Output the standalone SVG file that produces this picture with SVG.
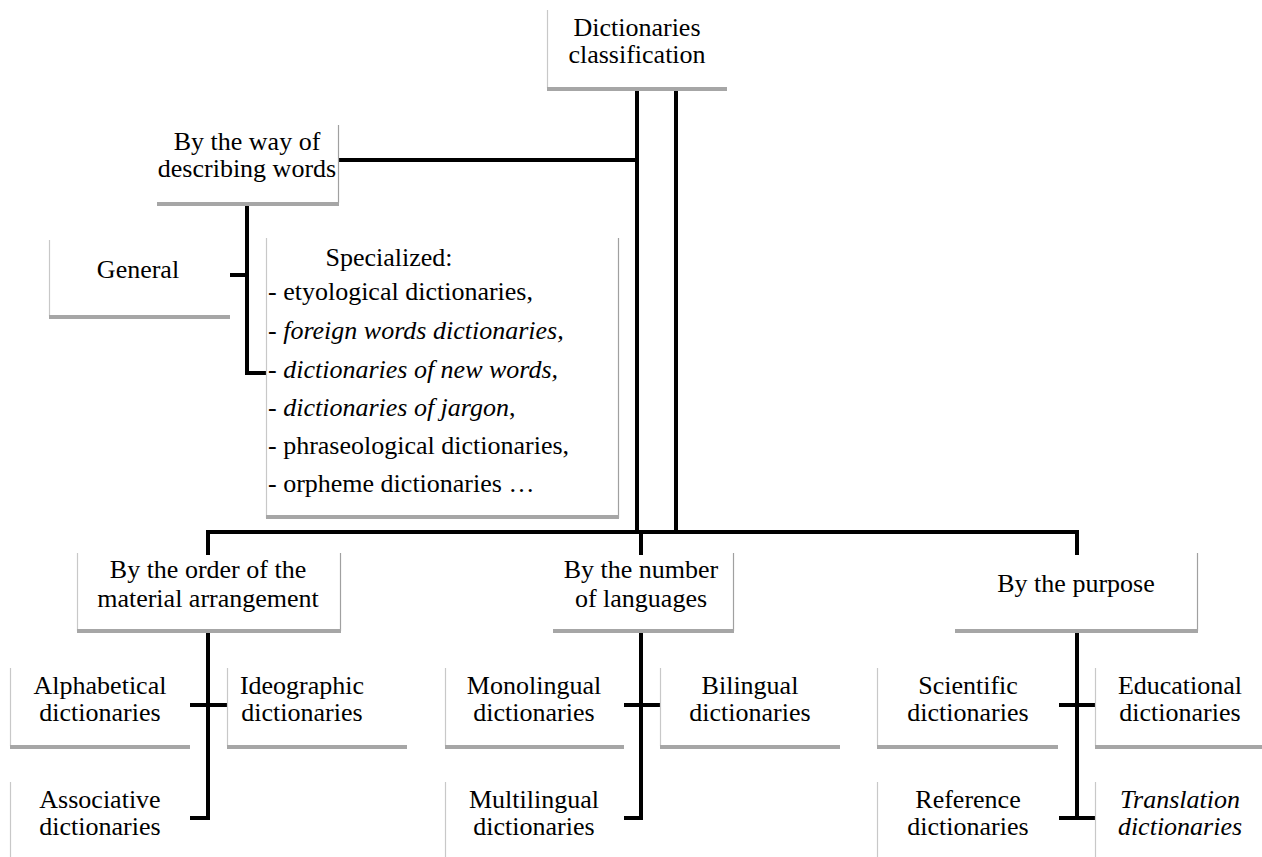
<svg xmlns="http://www.w3.org/2000/svg" width="1262" height="857" viewBox="0 0 1262 857" font-family="Liberation Serif, Tinos, Times New Roman, DejaVu Serif, serif" font-size="26">
<style>
.c{text-anchor:middle}
.i{font-style:italic}
.el{stroke:#c8c8c8;stroke-width:1.2}
.er{stroke:#a0a0a0;stroke-width:1.2}
.sh{fill:#a6a6a6}
.ln{stroke:#000;stroke-width:4;fill:none}
</style>
<rect width="1262" height="857" fill="#fff"/>
<g id="connectors">
<path class="ln" d="M637 90V532M676 90V532M338 160H637M206 532H1079M208 532V555M641 532V555M1077 532V555"/>
<path class="ln" d="M208 633V820M190 705H227M190 818H210"/>
<path class="ln" d="M641 633V820M624 705H660M624 818H643"/>
<path class="ln" d="M1077 633V818M1059 705H1095M1059 818H1095"/>
<path class="ln" d="M247 206V373M230 275H247M245 373H266"/>
</g>
<g id="n-root">
<line class="el" x1="547.5" y1="10" x2="547.5" y2="88"/>
<rect class="sh" x="547" y="87" width="180" height="4"/>
<text class="c" x="637" y="36">Dictionaries</text>
<text class="c" x="637" y="63">classification</text>
</g>
<g id="n-way">
<line class="er" x1="338.5" y1="125" x2="338.5" y2="203"/>
<rect class="sh" x="157" y="202" width="182" height="4"/>
<text class="c" x="247" y="150">By the way of</text>
<text class="c" x="247" y="177">describing words</text>
</g>
<g id="n-general">
<line class="el" x1="49.5" y1="240" x2="49.5" y2="316"/>
<rect class="sh" x="49" y="315" width="181" height="4"/>
<text class="c" x="138" y="278">General</text>
</g>
<g id="n-specialized">
<line class="el" x1="266.5" y1="238" x2="266.5" y2="518"/>
<line class="er" x1="618.5" y1="238" x2="618.5" y2="518"/>
<rect class="sh" x="266" y="515" width="353" height="4"/>
<text class="c" x="389" y="266">Specialized:</text>
<text x="268" y="300">- etyological dictionaries,</text>
<text x="268" y="339">- <tspan class="i">foreign words dictionaries,</tspan></text>
<text x="268" y="378">- <tspan class="i">dictionaries of new words,</tspan></text>
<text x="268" y="416">- <tspan class="i">dictionaries of jargon</tspan>,</text>
<text x="268" y="454">- phraseological dictionaries,</text>
<text x="268" y="492">- orpheme dictionaries …</text>
</g>
<g id="n-order">
<line class="el" x1="77.5" y1="553" x2="77.5" y2="631"/>
<line class="er" x1="340.5" y1="553" x2="340.5" y2="631"/>
<rect class="sh" x="77" y="629" width="264" height="4"/>
<text class="c" x="208" y="578">By the order of the</text>
<text class="c" x="208" y="607">material arrangement</text>
</g>
<g id="n-number">
<line class="er" x1="733.5" y1="553" x2="733.5" y2="631"/>
<rect class="sh" x="553" y="629" width="181" height="4"/>
<text class="c" x="641" y="578">By the number</text>
<text class="c" x="641" y="607">of languages</text>
</g>
<g id="n-purpose">
<line class="er" x1="1197.5" y1="553" x2="1197.5" y2="631"/>
<rect class="sh" x="955" y="629" width="243" height="4"/>
<text class="c" x="1076" y="592">By the purpose</text>
</g>
<g id="n-alphabetical">
<line class="el" x1="10.5" y1="668" x2="10.5" y2="746"/>
<rect class="sh" x="10" y="745" width="180" height="4"/>
<text class="c" x="100" y="694">Alphabetical</text>
<text class="c" x="100" y="721">dictionaries</text>
</g>
<g id="n-ideographic">
<line class="el" x1="227.5" y1="668" x2="227.5" y2="746"/>
<rect class="sh" x="227" y="745" width="180" height="4"/>
<text class="c" x="302" y="694">Ideographic</text>
<text class="c" x="302" y="721">dictionaries</text>
</g>
<g id="n-associative">
<line class="el" x1="10.5" y1="782" x2="10.5" y2="857"/>
<text class="c" x="100" y="808">Associative</text>
<text class="c" x="100" y="835">dictionaries</text>
</g>
<g id="n-monolingual">
<line class="el" x1="445.5" y1="668" x2="445.5" y2="746"/>
<rect class="sh" x="445" y="745" width="179" height="4"/>
<text class="c" x="534" y="694">Monolingual</text>
<text class="c" x="534" y="721">dictionaries</text>
</g>
<g id="n-bilingual">
<line class="el" x1="660.5" y1="668" x2="660.5" y2="746"/>
<rect class="sh" x="660" y="745" width="180" height="4"/>
<text class="c" x="750" y="694">Bilingual</text>
<text class="c" x="750" y="721">dictionaries</text>
</g>
<g id="n-multilingual">
<line class="el" x1="445.5" y1="782" x2="445.5" y2="857"/>
<text class="c" x="534" y="808">Multilingual</text>
<text class="c" x="534" y="835">dictionaries</text>
</g>
<g id="n-scientific">
<line class="el" x1="877.5" y1="668" x2="877.5" y2="746"/>
<rect class="sh" x="877" y="745" width="181" height="4"/>
<text class="c" x="968" y="694">Scientific</text>
<text class="c" x="968" y="721">dictionaries</text>
</g>
<g id="n-educational">
<line class="el" x1="1095.5" y1="668" x2="1095.5" y2="746"/>
<rect class="sh" x="1095" y="745" width="167" height="4"/>
<text class="c" x="1180" y="694">Educational</text>
<text class="c" x="1180" y="721">dictionaries</text>
</g>
<g id="n-reference">
<line class="el" x1="877.5" y1="782" x2="877.5" y2="857"/>
<text class="c" x="968" y="808">Reference</text>
<text class="c" x="968" y="835">dictionaries</text>
</g>
<g id="n-translation">
<line class="el" x1="1095.5" y1="782" x2="1095.5" y2="857"/>
<text class="c i" x="1180" y="808">Translation</text>
<text class="c i" x="1180" y="835">dictionaries</text>
</g>
</svg>
